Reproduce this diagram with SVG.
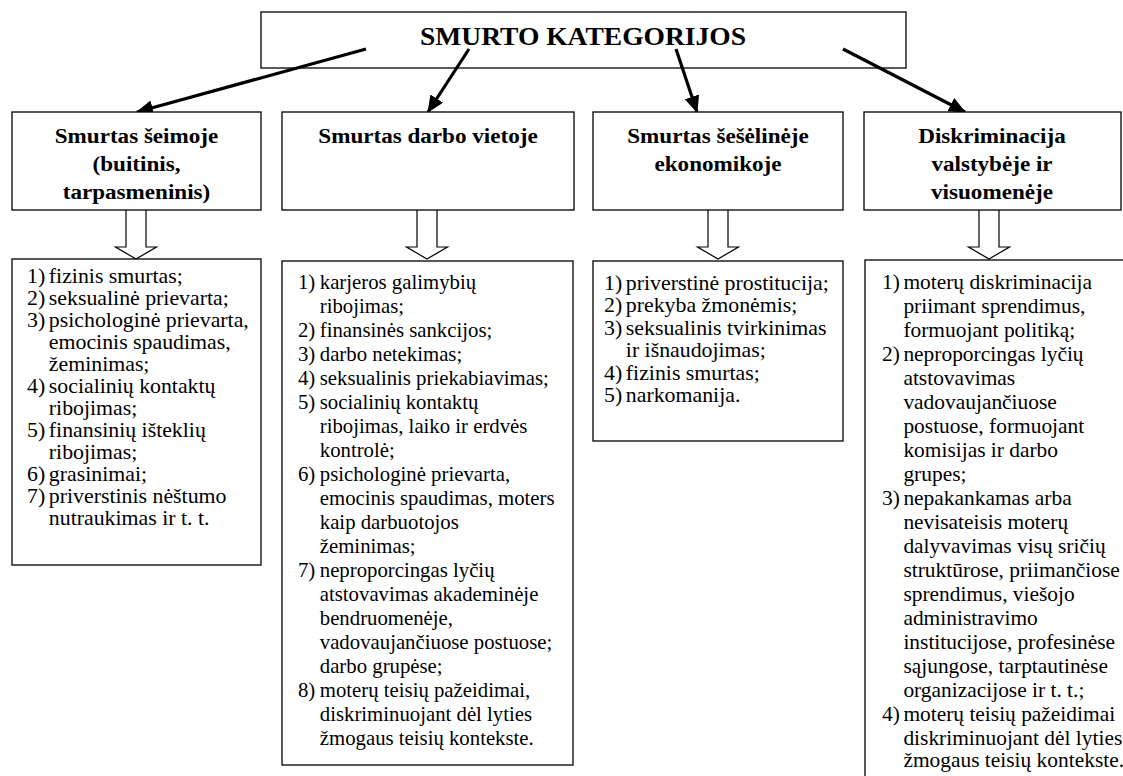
<svg xmlns="http://www.w3.org/2000/svg" width="1123" height="776" viewBox="0 0 1123 776">
<style>
.box{fill:#fff;stroke:#000;stroke-width:1.3}
.title{font-family:"Liberation Serif","Times New Roman",serif;font-weight:bold;font-size:25.5px;text-anchor:middle;fill:#000}
.cat{font-family:"Liberation Serif","Times New Roman",serif;font-weight:bold;font-size:21px;text-anchor:middle;fill:#000}
.lst{font-family:"Liberation Serif","Times New Roman",serif;font-size:21px;fill:#000}
.conn{stroke:#000;stroke-width:3.2;fill:none}
.hollow{fill:#fff;stroke:#000;stroke-width:1.2}
</style>
<defs>
<marker id="ah" markerUnits="userSpaceOnUse" markerWidth="17" markerHeight="15" refX="16" refY="7.5" orient="auto">
<path d="M0,0 L17,7.5 L0,15 Z" fill="#000"/>
</marker>
</defs>

<g id="top">
<rect class="box" x="261" y="12" width="645" height="56"/>
<text class="title" x="583" y="45" transform="translate(583,0) scale(1.08,1) translate(-583,0)">SMURTO KATEGORIJOS</text>
</g>

<g id="connectors">
<line class="conn" x1="366" y1="49" x2="137" y2="112" marker-end="url(#ah)"/>
<line class="conn" x1="469" y1="49" x2="428" y2="112" marker-end="url(#ah)"/>
<line class="conn" x1="676" y1="49" x2="697" y2="112" marker-end="url(#ah)"/>
<line class="conn" x1="843" y1="49" x2="965" y2="112" marker-end="url(#ah)"/>
<path class="hollow" d="M126,210 V247 H115.5 L136,259 L156.5,247 H146 V210"/>
<path class="hollow" d="M417,210 V247 H406.5 L427,259 L447.5,247 H437 V210"/>
<path class="hollow" d="M708,210 V247 H697.5 L718,259 L738.5,247 H728 V210"/>
<path class="hollow" d="M979,210 V247 H968.5 L989,259 L1009.5,247 H999 V210"/>
</g>

<g id="cat1">
<rect class="box" x="12" y="112" width="249" height="98"/>
<text class="cat" transform="translate(136.5,0) scale(1.1,1) translate(-136.5,0)"><tspan x="136.5" y="143">Smurtas šeimoje</tspan><tspan x="136.5" y="171">(buitinis,</tspan><tspan x="136.5" y="199">tarpasmeninis)</tspan></text>
</g>
<g id="cat2">
<rect class="box" x="282" y="112" width="292" height="98"/>
<text class="cat" x="428" y="143" transform="translate(428,0) scale(1.1,1) translate(-428,0)">Smurtas darbo vietoje</text>
</g>
<g id="cat3">
<rect class="box" x="593" y="112" width="250" height="98"/>
<text class="cat" transform="translate(718,0) scale(1.1,1) translate(-718,0)"><tspan x="718" y="143">Smurtas šešėlinėje</tspan><tspan x="718" y="171">ekonomikoje</tspan></text>
</g>
<g id="cat4">
<rect class="box" x="864" y="112" width="257" height="98"/>
<text class="cat" transform="translate(992,0) scale(1.1,1) translate(-992,0)"><tspan x="992" y="143">Diskriminacija</tspan><tspan x="992" y="171">valstybėje ir</tspan><tspan x="992" y="199">visuomenėje</tspan></text>
</g>

<g id="list1">
<rect class="box" x="12" y="259" width="249" height="306"/>
<text class="lst" transform="translate(27,0) scale(1.04,1) translate(-27,0)">
<tspan x="27" y="283">1)</tspan><tspan x="48" y="283">fizinis smurtas;</tspan>
<tspan x="27" y="305">2)</tspan><tspan x="48" y="305">seksualinė prievarta;</tspan>
<tspan x="27" y="327">3)</tspan><tspan x="48" y="327">psichologinė prievarta,</tspan>
<tspan x="48" y="349">emocinis spaudimas,</tspan>
<tspan x="48" y="371">žeminimas;</tspan>
<tspan x="27" y="393">4)</tspan><tspan x="48" y="393">socialinių kontaktų</tspan>
<tspan x="48" y="415">ribojimas;</tspan>
<tspan x="27" y="437">5)</tspan><tspan x="48" y="437">finansinių išteklių</tspan>
<tspan x="48" y="459">ribojimas;</tspan>
<tspan x="27" y="481">6)</tspan><tspan x="48" y="481">grasinimai;</tspan>
<tspan x="27" y="503">7)</tspan><tspan x="48" y="503">priverstinis nėštumo</tspan>
<tspan x="48" y="525">nutraukimas ir t. t.</tspan>
</text>
</g>

<g id="list2">
<rect class="box" x="282" y="261" width="291" height="504"/>
<text class="lst" transform="translate(298,0) scale(0.99,1) translate(-298,0)">
<tspan x="298" y="289">1)</tspan><tspan x="320" y="289">karjeros galimybių</tspan>
<tspan x="320" y="313">ribojimas;</tspan>
<tspan x="298" y="337">2)</tspan><tspan x="320" y="337">finansinės sankcijos;</tspan>
<tspan x="298" y="361">3)</tspan><tspan x="320" y="361">darbo netekimas;</tspan>
<tspan x="298" y="385">4)</tspan><tspan x="320" y="385">seksualinis priekabiavimas;</tspan>
<tspan x="298" y="409">5)</tspan><tspan x="320" y="409">socialinių kontaktų</tspan>
<tspan x="320" y="433">ribojimas, laiko ir erdvės</tspan>
<tspan x="320" y="457">kontrolė;</tspan>
<tspan x="298" y="481">6)</tspan><tspan x="320" y="481">psichologinė prievarta,</tspan>
<tspan x="320" y="505">emocinis spaudimas, moters</tspan>
<tspan x="320" y="529">kaip darbuotojos</tspan>
<tspan x="320" y="553">žeminimas;</tspan>
<tspan x="298" y="577">7)</tspan><tspan x="320" y="577">neproporcingas lyčių</tspan>
<tspan x="320" y="601">atstovavimas akademinėje</tspan>
<tspan x="320" y="625">bendruomenėje,</tspan>
<tspan x="320" y="649">vadovaujančiuose postuose;</tspan>
<tspan x="320" y="673">darbo grupėse;</tspan>
<tspan x="298" y="697">8)</tspan><tspan x="320" y="697">moterų teisių pažeidimai,</tspan>
<tspan x="320" y="721">diskriminuojant dėl lyties</tspan>
<tspan x="320" y="745">žmogaus teisių kontekste.</tspan>
</text>
</g>

<g id="list3">
<rect class="box" x="593" y="261" width="250" height="180"/>
<text class="lst" transform="translate(604,0) scale(1.04,1) translate(-604,0)">
<tspan x="604" y="290">1)</tspan><tspan x="625" y="290">priverstinė prostitucija;</tspan>
<tspan x="604" y="312.5">2)</tspan><tspan x="625" y="312.5">prekyba žmonėmis;</tspan>
<tspan x="604" y="335">3)</tspan><tspan x="625" y="335">seksualinis tvirkinimas</tspan>
<tspan x="625" y="357.5">ir išnaudojimas;</tspan>
<tspan x="604" y="380">4)</tspan><tspan x="625" y="380">fizinis smurtas;</tspan>
<tspan x="604" y="402.5">5)</tspan><tspan x="625" y="402.5">narkomanija.</tspan>
</text>
</g>

<g id="list4">
<rect class="box" x="865" y="260" width="270" height="530"/>
<text class="lst" transform="translate(882,0) scale(1.02,1) translate(-882,0)">
<tspan x="882" y="289">1)</tspan><tspan x="903" y="289">moterų diskriminacija</tspan>
<tspan x="903" y="313">priimant sprendimus,</tspan>
<tspan x="903" y="337">formuojant politiką;</tspan>
<tspan x="882" y="361">2)</tspan><tspan x="903" y="361">neproporcingas lyčių</tspan>
<tspan x="903" y="385">atstovavimas</tspan>
<tspan x="903" y="409">vadovaujančiuose</tspan>
<tspan x="903" y="433">postuose, formuojant</tspan>
<tspan x="903" y="457">komisijas ir darbo</tspan>
<tspan x="903" y="481">grupes;</tspan>
<tspan x="882" y="505">3)</tspan><tspan x="903" y="505">nepakankamas arba</tspan>
<tspan x="903" y="529">nevisateisis moterų</tspan>
<tspan x="903" y="553">dalyvavimas visų sričių</tspan>
<tspan x="903" y="577">struktūrose, priimančiose</tspan>
<tspan x="903" y="601">sprendimus, viešojo</tspan>
<tspan x="903" y="625">administravimo</tspan>
<tspan x="903" y="649">institucijose, profesinėse</tspan>
<tspan x="903" y="673">sąjungose, tarptautinėse</tspan>
<tspan x="903" y="697">organizacijose ir t. t.;</tspan>
<tspan x="882" y="721">4)</tspan><tspan x="903" y="721">moterų teisių pažeidimai</tspan>
<tspan x="903" y="745">diskriminuojant dėl lyties</tspan>
<tspan x="903" y="767">žmogaus teisių kontekste.</tspan>
</text>
</g>
</svg>
